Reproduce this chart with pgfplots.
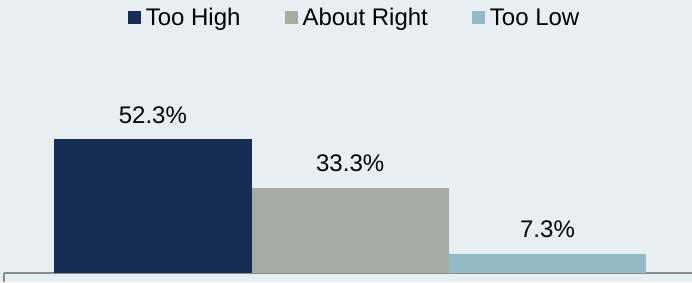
\documentclass[border=0pt]{standalone}
\usepackage{fontspec}
\setmainfont{Liberation Sans}
\usepackage{pgfplots}
\pgfplotsset{compat=1.18}
\definecolor{bgc}{HTML}{E8EFF2}
\definecolor{cHigh}{HTML}{182D55}
\definecolor{cRight}{HTML}{A7ABA1}
\definecolor{cLow}{HTML}{93B9C4}
\definecolor{axc}{HTML}{8C8C8C}
\begin{document}
\begin{tikzpicture}
\fill[bgc] (-4pt,-9.5pt) rectangle (688pt,272.5pt);
\begin{axis}[
  at={(0pt,0pt)}, anchor=south west,
  scale only axis, width=688pt, height=272.5pt,
  xmin=-0.7544, xmax=2.7324, ymin=0, ymax=106.9,
  axis y line=none, axis x line*=bottom,
  x axis line style={draw=axc, line width=2pt},
  xtick=\empty, ytick=\empty,
  ybar, bar width=1, bar shift=0pt,
  every axis plot/.append style={draw=none},
  /pgf/number format/assume math mode=true,
  nodes near coords={\pgfmathprintnumber[fixed,precision=1,fixed zerofill,assume math mode=true]{\pgfplotspointmeta}\%},
  nodes near coords style={font=\fontsize{24}{28}\selectfont, anchor=base, yshift=16pt, inner sep=0pt},
  legend columns=3,
  legend style={draw=none, fill=none, at={(0.5095,1)}, anchor=north, yshift=-4pt,
    font=\fontsize{24}{28}\selectfont,
    /tikz/every even column/.append style={column sep=42pt}},
  legend image code/.code={\fill[#1] (0pt,-6.5pt) rectangle (13pt,6.5pt); \path (13pt,0pt) -- (16pt,0pt);},
  legend cell align=left,
  clip=false,
]
\addplot[fill=cHigh] coordinates {(0,52.3)};
\addplot[fill=cRight] coordinates {(1,33.3)};
\addplot[fill=cLow] coordinates {(2,7.3)};
\legend{Too High, About Right, Too Low}
\draw[axc, line width=2pt] (axis cs:-0.7544,0) -- ++(0pt,-9.5pt);
\end{axis}
\pgfresetboundingbox
\useasboundingbox (-4pt,-9.5pt) rectangle (688pt,272.5pt);
\end{tikzpicture}
\end{document}
